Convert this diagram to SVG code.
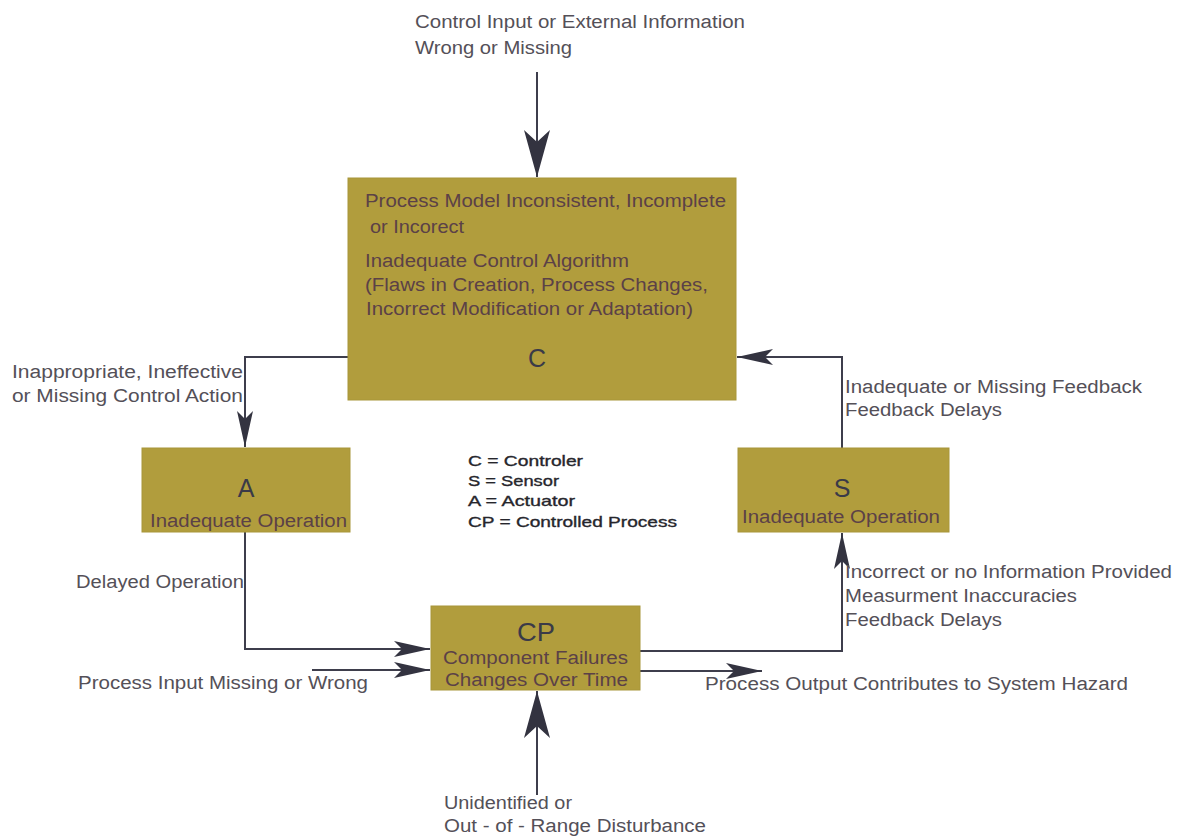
<svg xmlns="http://www.w3.org/2000/svg" width="1180" height="837" viewBox="0 0 1180 837">
<style>
.box{fill:#B19D3D;stroke:#A8963A;stroke-width:1}
.t{font-family:"Liberation Sans",Arial,sans-serif;font-size:18px;fill:#5B4147}
.lbl{font-family:"Liberation Sans",Arial,sans-serif;font-size:18px;fill:#545058}
.big{font-family:"Liberation Sans",Arial,sans-serif;font-size:25px;fill:#3A3A48;text-anchor:middle}
.leg{font-family:"Liberation Sans",Arial,sans-serif;font-size:15px;fill:#26262C;stroke:#26262C;stroke-width:0.35}
.ln{fill:none;stroke:#3E3E4C;stroke-width:2}
</style>
<defs>
<marker id="ab" markerUnits="userSpaceOnUse" viewBox="-48 -15 50 30" refX="0" refY="0" markerWidth="50" markerHeight="30" orient="auto">
<path d="M0,0 L-47,-13 L-35,0 L-47,13 Z" fill="#333340"/>
</marker>
<marker id="as" markerUnits="userSpaceOnUse" viewBox="-40 -11 42 22" refX="0" refY="0" markerWidth="42" markerHeight="22" orient="auto">
<path d="M0,0 L-36,-8 L-28,0 L-36,8 Z" fill="#333340"/>
</marker>
</defs>
<rect width="1180" height="837" fill="#FFFFFF"/>
<g id="connectors">
<path class="ln" d="M537,72 V177" marker-end="url(#ab)"/>
<path class="ln" d="M537,795 V691" marker-end="url(#ab)"/>
<path class="ln" d="M348,357 H245 V447" marker-end="url(#as)"/>
<path class="ln" d="M245,532 V649 H430" marker-end="url(#as)"/>
<path class="ln" d="M312,670 H430" marker-end="url(#as)"/>
<path class="ln" d="M640,651 H842 V533" marker-end="url(#as)"/>
<path class="ln" d="M842,448 V357 H737" marker-end="url(#as)"/>
<path class="ln" d="M640,671 H762" marker-end="url(#as)"/>
</g>
<g id="node-C">
<rect class="box" x="348" y="178" width="388" height="222"/>
<text class="t" x="365" y="207" textLength="361" lengthAdjust="spacingAndGlyphs">Process Model Inconsistent, Incomplete</text>
<text class="t" x="370" y="233" textLength="94" lengthAdjust="spacingAndGlyphs">or Incorect</text>
<text class="t" x="365" y="267" textLength="264" lengthAdjust="spacingAndGlyphs">Inadequate Control Algorithm</text>
<text class="t" x="365" y="291" textLength="343" lengthAdjust="spacingAndGlyphs">(Flaws in Creation, Process Changes,</text>
<text class="t" x="366" y="315" textLength="327" lengthAdjust="spacingAndGlyphs">Incorrect Modification or Adaptation)</text>
<text class="big" x="537" y="367">C</text>
</g>
<g id="node-A">
<rect class="box" x="142" y="448" width="208" height="84"/>
<text class="big" x="246" y="497">A</text>
<text class="t" x="150" y="527" textLength="197" lengthAdjust="spacingAndGlyphs">Inadequate Operation</text>
</g>
<g id="node-S">
<rect class="box" x="738" y="448" width="211" height="84"/>
<text class="big" x="842" y="497">S</text>
<text class="t" x="742" y="523" textLength="198" lengthAdjust="spacingAndGlyphs">Inadequate Operation</text>
</g>
<g id="node-CP">
<rect class="box" x="431" y="606" width="209" height="84"/>
<text class="big" x="536" y="641" textLength="38" lengthAdjust="spacingAndGlyphs">CP</text>
<text class="t" x="443" y="664" textLength="185" lengthAdjust="spacingAndGlyphs">Component Failures</text>
<text class="t" x="445" y="686" textLength="183" lengthAdjust="spacingAndGlyphs">Changes Over Time</text>
</g>
<g id="labels">
<text class="lbl" x="415" y="28" textLength="330" lengthAdjust="spacingAndGlyphs">Control Input or External Information</text>
<text class="lbl" x="415" y="54" textLength="157" lengthAdjust="spacingAndGlyphs">Wrong or Missing</text>
<text class="lbl" x="12" y="378" textLength="231" lengthAdjust="spacingAndGlyphs">Inappropriate, Ineffective</text>
<text class="lbl" x="12" y="402" textLength="231" lengthAdjust="spacingAndGlyphs">or Missing Control Action</text>
<text class="lbl" x="845" y="393" textLength="297" lengthAdjust="spacingAndGlyphs">Inadequate or Missing Feedback</text>
<text class="lbl" x="845" y="416" textLength="157" lengthAdjust="spacingAndGlyphs">Feedback Delays</text>
<text class="lbl" x="76" y="588" textLength="168" lengthAdjust="spacingAndGlyphs">Delayed Operation</text>
<text class="lbl" x="78" y="689" textLength="290" lengthAdjust="spacingAndGlyphs">Process Input Missing or Wrong</text>
<text class="lbl" x="845" y="578" textLength="327" lengthAdjust="spacingAndGlyphs">Incorrect or no Information Provided</text>
<text class="lbl" x="845" y="602" textLength="232" lengthAdjust="spacingAndGlyphs">Measurment Inaccuracies</text>
<text class="lbl" x="845" y="626" textLength="157" lengthAdjust="spacingAndGlyphs">Feedback Delays</text>
<text class="lbl" x="705" y="690" textLength="423" lengthAdjust="spacingAndGlyphs">Process Output Contributes to System Hazard</text>
<text class="lbl" x="444" y="809" textLength="128" lengthAdjust="spacingAndGlyphs">Unidentified or</text>
<text class="lbl" x="444" y="832" textLength="262" lengthAdjust="spacingAndGlyphs">Out - of - Range Disturbance</text>
</g>
<g id="legend">
<text class="leg" x="468" y="466" textLength="115" lengthAdjust="spacingAndGlyphs">C = Controler</text>
<text class="leg" x="468" y="486" textLength="91" lengthAdjust="spacingAndGlyphs">S = Sensor</text>
<text class="leg" x="468" y="506" textLength="107" lengthAdjust="spacingAndGlyphs">A = Actuator</text>
<text class="leg" x="468" y="527" textLength="209" lengthAdjust="spacingAndGlyphs">CP = Controlled Process</text>
</g>
</svg>
